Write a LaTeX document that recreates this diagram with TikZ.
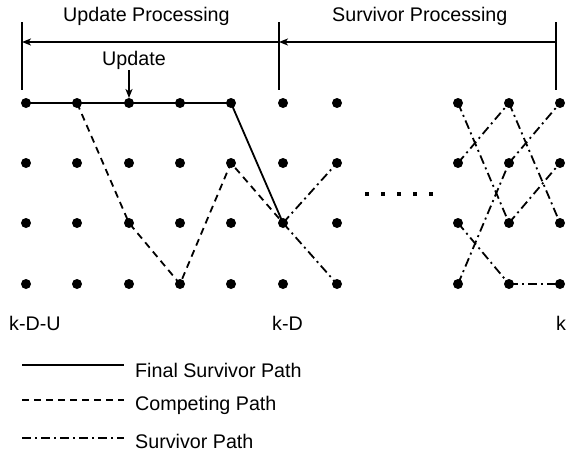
\documentclass[tikz,border=0pt]{standalone}
\usepackage{fontspec}
\setmainfont{Liberation Sans}
\usetikzlibrary{arrows.meta,backgrounds}
\begin{document}
\begin{tikzpicture}[x=1pt,y=-1pt,
  dot/.style={circle,fill=black,inner sep=0pt,minimum size=10pt},
  sq/.style={rectangle,fill=black,inner sep=0pt,minimum size=4.5pt},
  lbl/.style={font=\fontsize{19.7}{23}\selectfont,inner sep=0pt,anchor=base west},
  bar/.style={line width=1.6pt},
  arr/.style={line width=1.6pt,-{Stealth[length=9pt,width=7pt,inset=2.5pt]}},
  finalpath/.style={line width=1.8pt},
  comppath/.style={line width=1.8pt,dash pattern=on 7pt off 5pt},
  survpath/.style={line width=1.8pt,dash pattern=on 9pt off 4pt on 2pt off 4pt}]
\useasboundingbox (0,0) rectangle (566,455);
% dots
\foreach \x [count=\c] in {26,77,129,180,231,283,337,458,509,560}
  \foreach \y [count=\r] in {103,163,223,284}
    \node[dot] (d\c-\r) at (\x,\y) {};
% ellipsis
\foreach \x [count=\i] in {367,383,399,415,431}
  \node[sq] (e\i) at (\x,194) {};
% bars and arrows
\coordinate (bl1) at (22,22); \coordinate (bl2) at (22,90);
\coordinate (bm1) at (279,22); \coordinate (bm2) at (279,90);
\coordinate (br1) at (556,22); \coordinate (br2) at (556,90);
\draw[bar] (bl1) -- (bl2);
\draw[bar] (bm1) -- (bm2);
\draw[bar] (br1) -- (br2);
\coordinate (al) at (22,42); \coordinate (am) at (279,42); \coordinate (ar) at (556,42);
\draw[arr] (am) -- (al);
\draw[arr] (ar) -- (am);
\coordinate (ua) at (129,70); \coordinate (ub) at (129,98);
\draw[arr] (ua) -- (ub);
% labels
\node[lbl] (tup) at (63,21.5) {Update Processing};
\node[lbl] (tsp) at (332,21.5) {Survivor Processing};
\node[lbl] (tu) at (102,65) {Update};
\node[lbl] (k1) at (9,330.5) {k-D-U};
\node[lbl] (k2) at (272,330.5) {k-D};
\node[lbl] (k3) at (556,330.5) {k};
% paths
\begin{pgfonlayer}{background}
\draw[finalpath] (d1-1.center) -- (d5-1.center) -- (d6-3.center);
\draw[comppath] (d2-1.center) -- (d3-3.center) -- (d4-4.center) -- (d5-2.center) -- (d6-3.center);
\draw[survpath] (d6-3.center) -- (d7-2.center);
\draw[survpath] (d6-3.center) -- (d7-4.center);
\draw[survpath] (d8-1.center) -- (d9-3.center);
\draw[survpath] (d8-2.center) -- (d9-1.center);
\draw[survpath] (d8-3.center) -- (d9-4.center);
\draw[survpath] (d8-4.center) -- (d9-2.center);
\draw[survpath] (d9-1.center) -- (d10-3.center);
\draw[survpath] (d9-2.center) -- (d10-1.center);
\draw[survpath] (d9-3.center) -- (d10-2.center);
\draw[survpath] (d9-4.center) -- (d10-4.center);
\end{pgfonlayer}
% legend
\coordinate (l1a) at (22,365); \coordinate (l1b) at (124,365);
\coordinate (l2a) at (22,400); \coordinate (l2b) at (124,400);
\coordinate (l3a) at (22,438); \coordinate (l3b) at (124,438);
\draw[finalpath] (l1a) -- (l1b);
\draw[comppath] (l2a) -- (l2b);
\draw[survpath] (l3a) -- (l3b);
\node[lbl] (t1) at (135,377) {Final Survivor Path};
\node[lbl] (t2) at (135,410.5) {Competing Path};
\node[lbl] (t3) at (135,448) {Survivor Path};
\end{tikzpicture}
\end{document}
